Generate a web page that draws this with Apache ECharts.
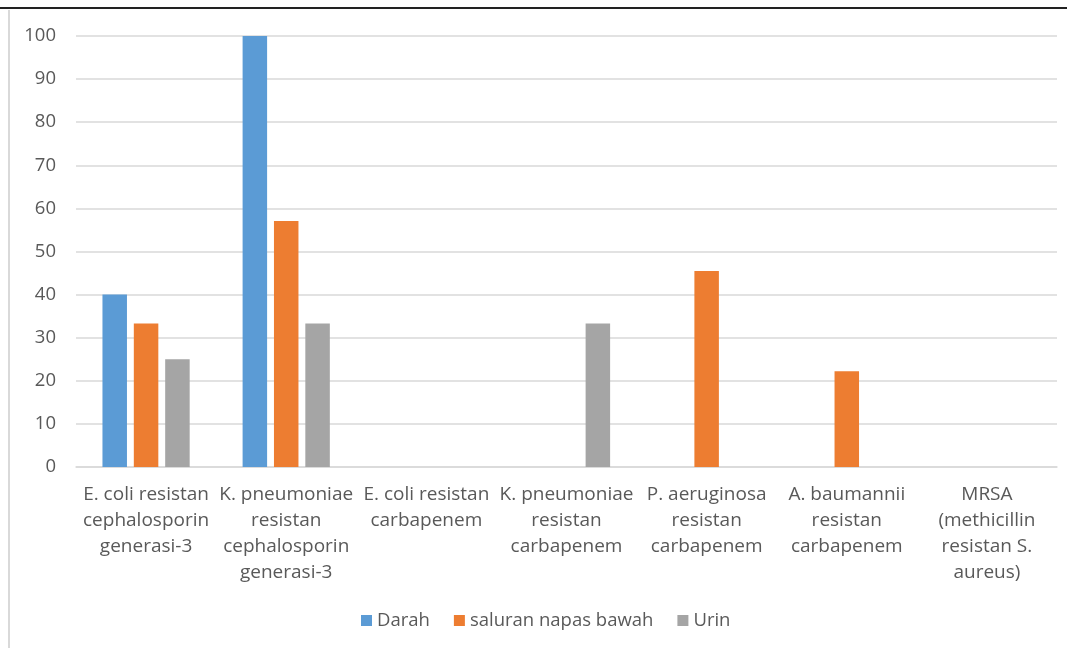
<!DOCTYPE html>
<html>
<head>
<meta charset="utf-8">
<script src="https://cdn.jsdelivr.net/npm/echarts@6/dist/echarts.min.js"></script>
<style>
html,body{margin:0;padding:0;background:#fff;}
#chart{width:1067px;height:648px;}
</style>
</head>
<body>
<div id="chart"></div>
<script>
const categories = [
  "E. coli resistan\ncephalosporin\ngenerasi-3",
  "K. pneumoniae\nresistan\ncephalosporin\ngenerasi-3",
  "E. coli resistan\ncarbapenem",
  "K. pneumoniae\nresistan\ncarbapenem",
  "P. aeruginosa\nresistan\ncarbapenem",
  "A. baumannii\nresistan\ncarbapenem",
  "MRSA\n(methicillin\nresistan S.\naureus)"
];
const seriesNames = ["Darah", "saluran napas bawah", "Urin"];
const darah = [40, 100, 0, 0, 0, 0, 0];
const saluran = [33.3, 57.1, 0, 0, 45.5, 22.2, 0];
const urin = [25, 33.3, 0, 33.3, 0, 0, 0];
const yTicks = [0, 10, 20, 30, 40, 50, 60, 70, 80, 90, 100];

const colors = ["#5b9bd5", "#ed7d31", "#a5a5a5"];
const font = "'Open Sans', 'Liberation Sans', Arial, sans-serif";
const chart = echarts.init(document.getElementById('chart'));
const mk = (name, data, i) => ({
  name: name, type: 'bar', data: data,
  barWidth: 24.5, barGap: '28%',
  itemStyle: { color: colors[i] },
  emphasis: { disabled: true }
});
chart.setOption({
  animation: false,
  textStyle: { fontFamily: font },
  grid: { left: 76, right: 10, top: 36, bottom: 181, containLabel: false },
  xAxis: {
    type: 'category', data: categories,
    axisLine: { lineStyle: { color: '#d9d9d9', width: 1.5 } },
    axisTick: { show: false },
    axisLabel: { interval: 0, color: '#595959', fontSize: 19, fontFamily: font, lineHeight: 26, margin: 15 }
  },
  yAxis: {
    type: 'value', min: yTicks[0], max: yTicks[yTicks.length - 1], interval: 10,
    axisLine: { show: false }, axisTick: { show: false },
    axisLabel: { color: '#595959', fontSize: 18.5, fontFamily: font, margin: 20 },
    splitLine: { lineStyle: { color: '#d9d9d9', width: 1.5 } }
  },
  legend: {
    bottom: 13, left: 356, icon: 'rect', itemWidth: 11, itemHeight: 11, itemGap: 24, itemTextGap: 6,
    padding: 5,
    textStyle: { color: '#595959', fontSize: 18.5, fontFamily: font },
    data: seriesNames
  },
  graphic: [
    { type: 'line', shape: { x1: 0, y1: 8, x2: 1067, y2: 8 }, style: { stroke: '#222', lineWidth: 2 } },
    { type: 'line', shape: { x1: 9, y1: 10, x2: 9, y2: 648 }, style: { stroke: '#d9d9d9', lineWidth: 2 } }
  ],
  series: [mk(seriesNames[0], darah, 0), mk(seriesNames[1], saluran, 1), mk(seriesNames[2], urin, 2)]
});
</script>
</body>
</html>
